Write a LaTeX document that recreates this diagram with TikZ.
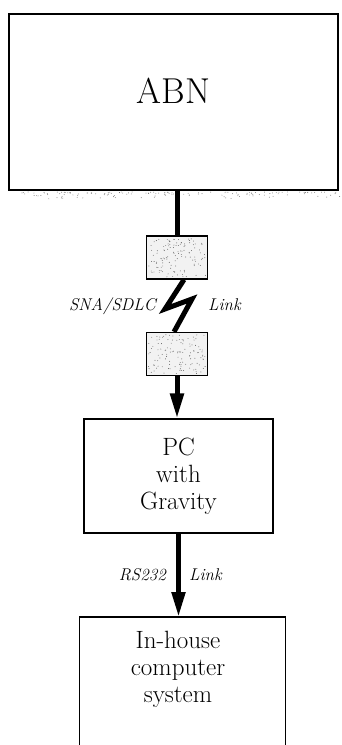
\documentclass[tikz,border=0pt]{standalone}
\usepackage{fontspec}
\setmainfont{Latin Modern Roman}
\usetikzlibrary{arrows.meta}
\begin{document}
\begin{tikzpicture}[x=1pt,y=-1pt,
  box/.style={draw, line width=1.1pt, inner sep=0pt},
  txt/.style={font=\fontsize{25}{27}\selectfont, align=center},
  lbl/.style={font=\fontsize{17}{19}\selectfont\itshape, inner sep=0pt},
  conn/.style={line width=5pt},
  bolt/.style={line width=5pt, line join=miter, miter limit=10},
  arr/.style={line width=5pt, -{Triangle[length=25pt,width=13pt]}},
  modem/.style={draw, line width=1.3pt, minimum width=61pt, minimum height=43pt, inner sep=0pt, fill=black!5},
  speck/.style={fill=black!65}]
\useasboundingbox (0,0) rectangle (341,745);
\fill[white] (0,0) rectangle (341,745);
\pgfmathsetseed{7}
% ABN box
\node[box, minimum width=329pt, minimum height=176pt] (abn) at (173.5,102) {};
\draw[line width=1.2pt] (abn.south west) -- (abn.south east);
\foreach \i in {1,...,140} {
  \pgfmathsetmacro\px{22+318*rnd}
  \pgfmathsetmacro\py{192+8*rnd*rnd}
  \fill[black!55] (\px,\py) circle (0.45pt);
}
\node[font=\fontsize{36}{40}\selectfont] (abnt) at (173.5,91) {ABN};
% modems
\node[modem] (m1) at (177,257.5) {};
\node[modem] (m2) at (177,354) {};
\foreach \i in {1,...,120} {
  \pgfmathsetmacro\px{148.5+57*rnd}
  \pgfmathsetmacro\py{238+39*rnd}
  \fill[speck] (\px,\py) circle (0.45pt);
  \pgfmathsetmacro\qx{148.5+57*rnd}
  \pgfmathsetmacro\qy{334.5+39*rnd}
  \fill[speck] (\qx,\qy) circle (0.45pt);
}
\node[modem, fill=none] (m1b) at (177,257.5) {};
\node[modem, fill=none] (m2b) at (177,354) {};
% connector ABN -> modem
\draw[conn] (m1.north |- abn.south) -- (m1.north);
% lightning bolt
\draw[bolt] ([xshift=7pt]m1.south) -- (165,309) -- (192,299) -- ([xshift=-3pt]m2.north);
\node[lbl, anchor=base east] (l1) at (156,310) {SNA/SDLC};
\node[lbl, anchor=base west] (l2) at (208,310) {Link};
% PC box
\node[box, txt, minimum width=189pt, minimum height=114pt] (pc) at (178.5,476) {PC\\with\\Gravity};
\draw[arr] (m2.south) -- (m2.south |- pc.north);
\draw[box] ([yshift=-0.5pt]pc.north west) rectangle (pc.south east);
% in-house box
\node[minimum width=205pt, minimum height=140pt, anchor=north, inner sep=0pt] (inh) at (182.5,617) {};
\draw[line width=1.1pt] (inh.north west |- 0,746) -- (inh.north west) -- (inh.north east) -- (inh.north east |- 0,746);
\node[txt] (inht) at (178,669) {In-house\\computer\\system};
\draw[arr] (pc.south) -- (pc.south |- inh.north);
\node[lbl, anchor=base east] (l3) at (166,580) {RS232};
\node[lbl, anchor=base west] (l4) at (189,580) {Link};
\end{tikzpicture}
\end{document}
